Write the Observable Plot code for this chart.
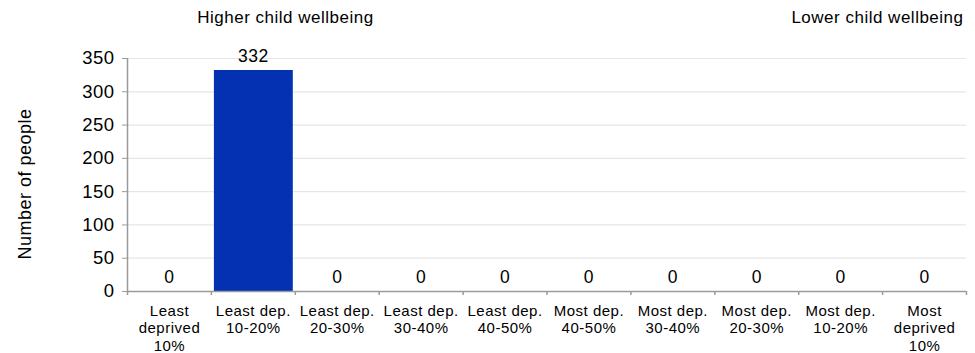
<!DOCTYPE html>
<html>
<head>
<meta charset="utf-8">
<script src="https://cdn.jsdelivr.net/npm/d3@7"></script>
<script src="https://cdn.jsdelivr.net/npm/@observablehq/plot@0.6"></script>
<style>
  html, body { margin: 0; padding: 0; background: #fff; }
  svg { display: block; }
  svg text { letter-spacing: 0.5px; }
</style>
</head>
<body>
<div id="chart"></div>
<script>
const categories = [
  "Least\ndeprived\n10%",
  "Least dep.\n10-20%",
  "Least dep.\n20-30%",
  "Least dep.\n30-40%",
  "Least dep.\n40-50%",
  "Most dep.\n40-50%",
  "Most dep.\n30-40%",
  "Most dep.\n20-30%",
  "Most dep.\n10-20%",
  "Most\ndeprived\n10%"
];
const values = [0, 332, 0, 0, 0, 0, 0, 0, 0, 0];
const yTicks = [0, 50, 100, 150, 200, 250, 300, 350];
const leftTitle = "Higher child wellbeing";
const rightTitle = "Lower child wellbeing";
const yLabel = "Number of people";

const data = categories.map((c, i) => ({category: c, value: values[i]}));

const W = 975, H = 353;
const mL = 127, mR = 9, mT = 58, mB = 62;
const bw = (W - mL - mR) / categories.length;
const font = "'Liberation Sans', Arial, Helvetica, sans-serif";
const axisGray = "#9a9a9a";

const chart = Plot.plot({
  width: W,
  height: H,
  marginLeft: mL,
  marginRight: mR,
  marginTop: mT,
  marginBottom: mB,
  style: {fontFamily: font, color: "#000", background: "#fff"},
  x: {domain: categories, padding: 0, round: false, label: null},
  y: {domain: [0, 350], label: null},
  marks: [
    Plot.gridY(yTicks, {stroke: "#e6e6e6", strokeOpacity: 1, strokeWidth: 1.2}),
    Plot.barY(data, {x: "category", y: "value", fill: "#0331B1", insetLeft: 3, insetRight: 2}),
    Plot.text(data, {x: "category", y: "value", text: d => String(d.value), dy: -14, fontSize: 17.5, fill: "#000"}),
    // axis lines
    Plot.ruleY([0], {stroke: axisGray, strokeWidth: 1.5}),
    Plot.ruleX([categories[0]], {dx: -bw / 2, y1: 0, y2: 350, stroke: axisGray, strokeWidth: 1.5}),
    // y axis
    Plot.axisY(yTicks, {tickSize: 5, tickPadding: 8, stroke: axisGray, fontSize: 18.5, fill: "#000", label: null, tickFormat: d => String(d)}),
    // x boundary ticks
    Plot.axisX(categories, {tickSize: 4, tickFormat: () => "", dx: -bw / 2, stroke: axisGray, strokeWidth: 1.5, label: null}),
    Plot.axisX([categories[categories.length - 1]], {tickSize: 4, tickFormat: () => "", dx: bw / 2, stroke: axisGray, strokeWidth: 1.5, label: null}),
    // x labels
    Plot.axisX(categories, {tickSize: 0, tickPadding: 12, fontSize: 15, lineHeight: 1.16, fill: "#000", label: null, tickFormat: d => d}),
    // titles
    Plot.text([leftTitle], {frameAnchor: "top-left", dx: 158, dy: -41, textAnchor: "middle", lineAnchor: "middle", fontSize: 17, fill: "#000"}),
    Plot.text([rightTitle], {frameAnchor: "top-right", dx: -3, dy: -41, textAnchor: "end", lineAnchor: "middle", fontSize: 17, fill: "#000"}),
    // y label
    Plot.text([yLabel], {frameAnchor: "left", dx: -102, dy: 9, rotate: -90, textAnchor: "middle", lineAnchor: "middle", fontSize: 18, fill: "#000"})
  ]
});
document.getElementById("chart").append(chart);
</script>
</body>
</html>
